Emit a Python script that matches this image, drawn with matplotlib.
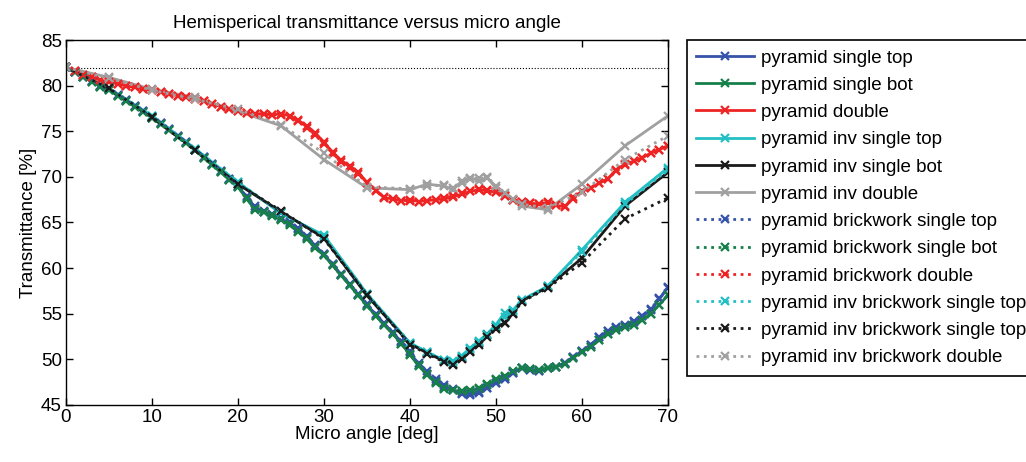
import matplotlib
matplotlib.use('Agg')
import matplotlib.pyplot as plt

plt.rcParams['font.family'] = ['Liberation Sans', 'DejaVu Sans']
plt.rcParams['font.size'] = 13.5

# angles for the densely sampled pyramid runs (0..70 deg, 1 deg step)
ang_dense = list(range(0, 71))

# angles for the inverted pyramid runs
ang_inv = [0, 5, 10, 15, 20, 25, 30, 35, 40, 42, 44, 45, 46, 47, 48, 49,
           50, 51, 52, 53, 56, 60, 65, 70]

pyr_single_top = [82.0, 81.5, 81.0, 80.5, 80.0, 79.6, 79.0, 78.4, 77.8, 77.2,
                  76.6, 75.9, 75.2, 74.5, 73.8, 73.0, 72.2, 71.4, 70.6, 69.8,
                  69.0, 67.8, 66.6, 66.2, 65.8, 65.4, 64.9, 64.3, 63.4, 62.4,
                  61.5, 60.4, 59.3, 58.2, 57.1, 56.0, 54.9, 53.9, 52.9, 51.9,
                  50.8, 49.4, 48.4, 47.6, 47.0, 46.6, 46.2, 46.1, 46.3, 46.9,
                  47.4, 47.9, 48.5, 49.0, 48.8, 48.7, 49.0, 49.2, 49.6, 50.3,
                  50.9, 51.6, 52.4, 53.1, 53.4, 53.7, 54.1, 54.7, 55.4, 56.6,
                  57.9]
pyr_single_bot = [82.0, 81.5, 81.0, 80.4, 79.9, 79.5, 78.9, 78.3, 77.7, 77.1,
                  76.5, 75.8, 75.1, 74.4, 73.7, 72.9, 72.1, 71.3, 70.5, 69.7,
                  68.9, 67.6, 66.4, 66.1, 65.7, 65.3, 64.7, 64.0, 63.2, 62.2,
                  61.4, 60.3, 59.2, 58.1, 57.0, 55.9, 54.8, 53.8, 52.8, 51.7,
                  50.5, 49.3, 48.3, 47.4, 46.8, 46.6, 46.5, 46.5, 46.8, 47.2,
                  47.7, 48.1, 48.6, 49.1, 48.9, 48.8, 49.1, 49.2, 49.5, 50.2,
                  50.8, 51.4, 52.1, 52.8, 53.2, 53.5, 53.8, 54.3, 55.0, 56.0,
                  57.0]
pyr_double = [82.0, 81.6, 81.2, 80.9, 80.6, 80.4, 80.2, 80.0, 79.8, 79.6,
              79.5, 79.3, 79.1, 78.9, 78.7, 78.5, 78.3, 78.0, 77.7, 77.4,
              77.2, 77.0, 76.9, 76.9, 76.8, 76.9, 76.7, 76.2, 75.6, 74.8,
              73.8, 72.7, 71.8, 71.2, 70.5, 69.4, 68.6, 67.7, 67.6, 67.4,
              67.5, 67.3, 67.4, 67.5, 67.6, 67.8, 68.1, 68.4, 68.6, 68.5,
              68.3, 67.9, 67.5, 67.3, 67.1, 67.0, 67.2, 66.9, 66.7, 67.8,
              68.4, 68.8, 69.3, 69.8, 70.8, 71.4, 71.7, 72.1, 72.6, 73.0,
              73.4]

inv_single_top = [82.0, 79.7, 76.7, 73.1, 69.4, 66.0, 63.6, 57.2, 51.8, 50.8,
                  49.9, 49.8, 50.4, 51.2, 52.0, 52.8, 53.8, 55.1, 55.4, 56.5,
                  58.0, 62.0, 67.2, 71.0]
inv_single_bot = [82.0, 79.6, 76.5, 73.0, 69.2, 66.2, 63.3, 57.0, 51.7, 50.7,
                  49.8, 49.5, 50.2, 50.9, 51.8, 52.7, 53.5, 54.0, 55.1, 56.4,
                  57.9, 61.1, 66.8, 70.5]
inv_double = [82.0, 80.9, 79.6, 78.7, 77.2, 75.6, 71.9, 68.8, 68.6, 69.2,
              69.0, 68.6, 69.5, 69.9, 69.6, 69.9, 68.8, 68.0, 67.5, 66.8,
              66.4, 69.2, 73.4, 76.7]

brick_single_top = [82.0, 81.5, 81.0, 80.5, 80.0, 79.6, 79.0, 78.4, 77.8, 77.2,
                    76.6, 75.9, 75.2, 74.5, 73.8, 73.0, 72.2, 71.4, 70.6, 69.8,
                    69.0, 67.9, 66.8, 66.3, 65.9, 65.5, 65.0, 64.4, 63.5, 62.5,
                    61.6, 60.5, 59.4, 58.3, 57.2, 56.1, 55.0, 54.0, 53.0, 52.0,
                    50.9, 49.6, 48.7, 47.9, 47.2, 46.7, 46.3, 46.2, 46.4, 46.9,
                    47.4, 47.9, 48.5, 49.0, 48.8, 48.7, 49.0, 49.2, 49.6, 50.3,
                    50.9, 51.6, 52.4, 53.1, 53.5, 53.8, 54.2, 54.8, 55.5, 56.7,
                    57.8]
brick_single_bot = [82.0, 81.5, 81.0, 80.4, 79.9, 79.5, 78.9, 78.3, 77.7, 77.1,
                    76.5, 75.8, 75.1, 74.4, 73.7, 72.9, 72.1, 71.3, 70.5, 69.7,
                    68.9, 67.7, 66.5, 66.1, 65.8, 65.4, 64.8, 64.1, 63.3, 62.3,
                    61.4, 60.3, 59.2, 58.1, 57.0, 55.9, 54.8, 53.8, 52.8, 51.7,
                    50.6, 49.4, 48.4, 47.5, 46.9, 46.6, 46.5, 46.6, 46.9, 47.3,
                    47.8, 48.2, 48.7, 49.1, 48.9, 48.8, 49.1, 49.2, 49.5, 50.2,
                    50.8, 51.4, 52.1, 52.8, 53.2, 53.5, 53.8, 54.3, 55.0, 56.0,
                    57.1]
brick_double = [82.0, 81.6, 81.2, 80.9, 80.6, 80.4, 80.2, 80.0, 79.8, 79.6,
                79.5, 79.3, 79.1, 78.9, 78.7, 78.5, 78.3, 78.0, 77.7, 77.4,
                77.2, 77.0, 76.9, 76.9, 76.8, 76.8, 76.6, 76.1, 75.4, 74.6,
                73.6, 72.5, 71.6, 71.0, 70.3, 69.3, 68.5, 67.8, 67.6, 67.4,
                67.4, 67.3, 67.4, 67.5, 67.7, 67.9, 68.2, 68.5, 68.7, 68.6,
                68.3, 67.9, 67.5, 67.3, 67.1, 67.0, 67.1, 66.9, 66.8, 67.6,
                68.3, 68.8, 69.3, 69.8, 70.6, 71.3, 71.7, 72.1, 72.6, 73.0,
                73.4]
inv_brick_single_top = [82.0, 79.7, 76.7, 73.1, 69.4, 66.1, 63.5, 57.2, 51.8, 50.8,
                        49.9, 49.7, 50.3, 51.1, 51.9, 52.7, 53.7, 54.6, 55.3, 56.5,
                        58.0, 61.8, 67.0, 70.8]
inv_brick_single_bot = [82.0, 79.7, 76.6, 72.9, 69.2, 66.3, 63.2, 57.1, 51.6, 50.6,
                        49.7, 49.4, 50.0, 50.8, 51.6, 52.5, 53.3, 54.0, 55.0, 56.3,
                        57.8, 60.6, 65.4, 67.7]
inv_brick_double = [82.0, 80.8, 79.5, 78.5, 77.4, 75.7, 72.6, 68.9, 68.7, 69.0,
                    69.1, 68.8, 69.3, 69.8, 69.9, 70.0, 69.0, 68.2, 67.6, 67.0,
                    66.6, 68.3, 71.9, 74.5]

# flat-surface reference level
ref_level = 81.9

blue = '#3553a8'
green = '#17804a'
red = '#ee2424'
cyan = '#22c0c4'
black = '#1a1a1a'
gray = '#a0a0a0'

series = [
    (ang_dense, pyr_single_top, blue, '-', 'pyramid single top'),
    (ang_dense, pyr_single_bot, green, '-', 'pyramid single bot'),
    (ang_dense, pyr_double, red, '-', 'pyramid double'),
    (ang_inv, inv_single_top, cyan, '-', 'pyramid inv single top'),
    (ang_inv, inv_single_bot, black, '-', 'pyramid inv single bot'),
    (ang_inv, inv_double, gray, '-', 'pyramid inv double'),
    (ang_dense, brick_single_top, blue, ':', 'pyramid brickwork single top'),
    (ang_dense, brick_single_bot, green, ':', 'pyramid brickwork single bot'),
    (ang_dense, brick_double, red, ':', 'pyramid brickwork double'),
    (ang_inv, inv_brick_single_top, cyan, ':', 'pyramid inv brickwork single top'),
    (ang_inv, inv_brick_single_bot, black, ':', 'pyramid inv brickwork single top'),
    (ang_inv, inv_brick_double, gray, ':', 'pyramid inv brickwork double'),
]

fig = plt.figure(figsize=(10.26, 4.62), dpi=100)
ax = fig.add_axes([0.0643, 0.1234, 0.5867, 0.79])

ax.plot([0, 70], [ref_level, ref_level], color='black', linestyle=':', linewidth=0.8)

for x, y, c, ls, lab in series:
    ax.plot(x, y, color=c, linestyle=ls, linewidth=2, marker='x',
            markersize=5.5, markeredgewidth=1.6, label=lab)

ax.set_xlim(0, 70)
ax.set_ylim(45, 85)
ax.set_xticks(range(0, 71, 10))
ax.set_yticks(range(45, 86, 5))
ax.tick_params(direction='in', top=True, right=True, length=5, width=1,
               labelsize=13.5, pad=3)
for sp in ax.spines.values():
    sp.set_linewidth(1)

ax.set_title('Hemisperical transmittance versus micro angle', fontsize=13.5, pad=9)
ax.set_xlabel('Micro angle [deg]', fontsize=13.5, labelpad=0)
ax.set_ylabel('Transmittance [%]', fontsize=13.5, labelpad=3)

# legend sits to the right of the axes and runs past the figure edge
leg = ax.legend(loc='upper left', bbox_to_anchor=(1.0316, 1.0), fontsize=13.5,
                handlelength=3.1, handletextpad=0.35, labelspacing=0.54,
                borderpad=0.5, borderaxespad=0, fancybox=False,
                edgecolor='black', framealpha=1)
leg.get_frame().set_linewidth(1.2)

plt.savefig('out.png', dpi=100)
